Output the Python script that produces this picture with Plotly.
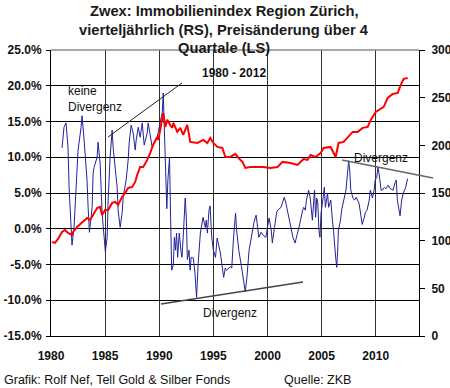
import plotly.graph_objects as go

# Index (right scale), quarterly
red_years = [1980.09, 1980.37, 1980.65, 1981.02, 1981.30, 1981.57, 1981.94, 1982.04, 1982.41, 1982.87,
             1983.33, 1983.61, 1983.89, 1984.26, 1984.54, 1984.72, 1985.00, 1985.28, 1985.65, 1985.93,
             1986.20, 1986.57, 1986.85, 1987.13, 1987.50, 1987.78, 1987.96, 1988.24, 1988.52, 1988.89,
             1989.17, 1989.44, 1989.81, 1989.91, 1990.09, 1990.28, 1990.37, 1990.56, 1990.74, 1991.02,
             1991.20, 1991.30, 1991.67, 1991.94, 1992.22, 1992.59, 1992.69, 1992.87, 1993.52, 1994.07,
             1994.44, 1994.72, 1995.00, 1995.37, 1995.83, 1996.11, 1996.57, 1997.04, 1997.31, 1997.69,
             1997.96, 1998.43, 1999.07, 1999.63, 2000.28, 2000.93, 2001.39, 2002.13, 2002.78, 2003.33,
             2003.70, 2003.98, 2004.44, 2004.91, 2005.19, 2005.83, 2006.30, 2006.57, 2007.04, 2007.41,
             2007.87, 2008.33, 2008.80, 2009.26, 2009.54, 2010.00, 2010.28, 2010.74, 2011.11, 2011.57,
             2012.04, 2012.31, 2012.59, 2012.96]
red_vals = [98.6, 97.6, 101.8, 109.1, 111.2, 108.1, 106.0, 109.1, 114.4, 118.6,
            123.8, 121.7, 127.0, 134.3, 135.4, 127.0, 132.2, 132.2, 139.6, 140.6,
            137.5, 145.9, 150.1, 155.3, 156.3, 161.6, 168.9, 177.3, 177.3, 184.7,
            192.0, 200.4, 208.8, 205.7, 216.2, 231.9, 234.0, 219.3, 226.7, 221.4,
            218.3, 223.5, 214.1, 218.3, 210.9, 221.4, 216.2, 203.6, 202.5, 205.7,
            202.5, 207.8, 202.5, 198.3, 197.3, 187.8, 187.8, 191.0, 186.8, 182.6,
            176.3, 177.3, 177.3, 177.3, 176.3, 177.3, 182.6, 181.5, 179.4, 185.7,
            184.7, 189.9, 187.8, 192.0, 197.3, 198.3, 187.8, 202.5, 203.6, 208.8,
            214.1, 214.1, 218.3, 219.3, 226.7, 235.0, 237.1, 240.3, 249.7, 253.9,
            255.0, 263.4, 269.7, 270.7]

# Price change over 4 quarters in % (left scale)
blue_years = [1981.02, 1981.20, 1981.39, 1981.57, 1981.67, 1981.85, 1981.94, 1982.13, 1982.31, 1982.50,
              1982.78, 1982.87, 1983.06, 1983.33, 1983.43, 1983.55, 1983.80, 1983.89, 1983.98, 1984.26,
              1984.35, 1984.54, 1984.72, 1984.91, 1985.02, 1985.19, 1985.28, 1985.46, 1985.65, 1985.74,
              1985.93, 1986.11, 1986.20, 1986.39, 1986.57, 1986.67, 1986.94, 1987.13, 1987.22, 1987.41,
              1987.59, 1987.78, 1987.87, 1988.06, 1988.24, 1988.43, 1988.61, 1988.89, 1988.98, 1989.17,
              1989.35, 1989.54, 1989.81, 1990.00, 1990.28, 1990.37, 1990.55, 1990.70, 1990.80, 1990.95,
              1991.05, 1991.15, 1991.30, 1991.40, 1991.50, 1991.60, 1991.70, 1991.85, 1992.00, 1992.10,
              1992.25, 1992.40, 1992.50, 1992.60, 1992.75, 1992.85, 1992.95, 1993.15, 1993.30, 1993.45,
              1993.60, 1993.80, 1994.05, 1994.25, 1994.35, 1994.45, 1994.60, 1994.70, 1994.85, 1995.00,
              1995.20, 1995.35, 1995.65, 1995.75, 1995.95, 1996.10, 1996.20, 1996.60, 1996.70, 1996.85,
              1997.05, 1997.15, 1997.35, 1997.60, 1997.80, 1997.95, 1998.10, 1998.30, 1998.50, 1998.75,
              1998.95, 1999.20, 1999.40, 1999.60, 1999.85, 1999.95, 2000.15, 2000.35, 2000.45, 2000.65,
              2000.85, 2000.95, 2001.25, 2001.40, 2001.55, 2001.70, 2001.90, 2002.10, 2002.35, 2002.55,
              2002.75, 2003.00, 2003.25, 2003.35, 2003.50, 2003.60, 2003.80, 2003.95, 2004.15, 2004.25,
              2004.35, 2004.45, 2004.55, 2004.65, 2004.75, 2004.85, 2004.95, 2005.15, 2005.25, 2005.35,
              2005.55, 2005.65, 2005.85, 2006.00, 2006.10, 2006.30, 2006.40, 2006.50, 2006.55, 2006.75,
              2006.85, 2007.05, 2007.25, 2007.40, 2007.50, 2007.60, 2007.70, 2007.90, 2008.05, 2008.20,
              2008.45, 2008.60, 2008.75, 2008.95, 2009.05, 2009.20, 2009.40, 2009.50, 2009.70, 2009.85,
              2009.95, 2010.10, 2010.20, 2010.30, 2010.50, 2010.60, 2010.80, 2010.95, 2011.15, 2011.35,
              2011.60, 2011.80, 2011.90, 2012.00, 2012.15, 2012.25, 2012.40, 2012.55, 2012.75, 2012.95]
blue_vals = [11.3, 14.2, 14.8, 11.4, 5.8, 1.2, -2.3, 0.2, 5.0, 11.0,
             14.2, 15.8, 12.4, 6.8, 3.0, -0.5, 3.0, 7.8, 8.6, 10.0,
             12.1, 9.2, 2.2, -0.6, -3.2, -1.2, 4.0, 10.0, 13.8, 11.4,
             8.2, 5.8, 2.6, 0.2, 2.2, 4.4, 6.8, 9.6, 12.0, 14.5,
             13.4, 11.0, 12.4, 14.2, 12.8, 14.8, 11.7, 13.4, 14.8, 12.8,
             11.4, 12.1, 12.8, 14.2, 16.3, 19.0, 10.0, 2.8, 6.8, 10.0,
             1.6, -5.8, -5.1, -1.2, -3.0, -0.6, -4.0, -0.6, -3.0, -4.0,
             -0.2, 4.3, 1.6, -4.3, -3.0, -5.8, -4.0, -4.1, -6.2, -9.6,
             -4.8, -0.6, 1.6, 0.2, 1.2, -0.6, 2.6, 3.2, -1.2, -3.0,
             -4.0, -1.3, -3.4, -4.8, -6.8, -5.5, -5.8, -5.3, -5.5, -1.6,
             2.2, -0.2, -3.0, -5.3, -7.1, -8.8, -6.8, -3.0, -1.3, 0.9,
             1.9, -1.2, -0.5, -0.9, -1.2, -0.2, 1.5, -0.2, -2.0, 0.2,
             2.3, 2.6, 3.0, 3.7, 4.4, 3.6, 2.2, 0.6, -1.2, -2.0,
             -0.9, 0.8, 2.6, 3.0, 2.6, 4.0, 5.4, 4.3, 1.2, 4.0,
             5.4, 1.6, 4.3, 3.6, -0.2, -1.2, 2.2, 4.4, 5.8, 3.0,
             5.0, 3.0, 4.0, 1.2, -0.2, -4.0, -5.4, -2.6, -0.2, 1.2,
             2.6, 4.0, 5.4, 7.8, 9.5, 8.2, 5.4, 4.3, 4.0, 4.4,
             3.6, 2.2, 0.6, 1.6, 2.3, 2.6, 4.0, 5.4, 4.3, 5.4,
             6.8, 7.2, 8.6, 7.8, 5.4, 5.4, 5.8, 5.6, 6.1, 5.6,
             5.4, 6.5, 6.8, 4.0, 2.3, 1.8, 4.0, 5.0, 5.7, 7.0]

x_ticks = [1980, 1985, 1990, 1995, 2000, 2005, 2010]
left_ticks = [-15, -10, -5, 0, 5, 10, 15, 20, 25]
left_labels = ["-15.0%", "-10.0%", "-5.0%", "0.0%", "5.0%", "10.0%", "15.0%", "20.0%", "25.0%"]
right_ticks = [0, 50, 100, 150, 200, 250, 300]
title_lines = ["Zwex: Immobilienindex Region Zürich,",
               "vierteljährlich (RS), Preisänderung über 4",
               "Quartale (LS)"]

W, H = 450, 388
L, R, T, B = 51, 419, 50, 336
FONT = "Liberation Sans, Arial, sans-serif"


def px(x):
    return (x - L) / (R - L)


def py(y):
    return (B - y) / (B - T)


fig = go.Figure()
fig.add_trace(go.Scatter(x=blue_years, y=blue_vals, mode="lines",
                         line=dict(color="#22229a", width=1), yaxis="y", showlegend=False))
fig.add_trace(go.Scatter(x=red_years, y=red_vals, mode="lines",
                         line=dict(color="#ff0000", width=2), yaxis="y2", showlegend=False))

shapes = [
    dict(type="line", xref="paper", yref="paper", x0=0, x1=1, y0=1, y1=1,
         line=dict(color="#8a8a8a", width=1.5)),
    dict(type="line", xref="paper", yref="paper", x0=px(108), y0=py(137), x1=px(182), y1=py(83),
         line=dict(color="#222222", width=1)),
    dict(type="line", xref="paper", yref="paper", x0=px(161), y0=py(304), x1=px(303), y1=py(282),
         line=dict(color="#444444", width=1.5)),
    dict(type="line", xref="paper", yref="paper", x0=px(342), y0=py(160), x1=px(433), y1=py(178),
         line=dict(color="#666666", width=1.5)),
]

annotations = [
    dict(text="keine<br>Divergenz", x=px(66), y=py(99), xanchor="left", yanchor="middle", align="left",
         font=dict(size=12, color="#111111", family=FONT)),
    dict(text="<b>1980 - 2012</b>", x=px(200), y=py(73), xanchor="left", yanchor="middle",
         font=dict(size=12, color="#111111", family=FONT)),
    dict(text="Divergenz", x=px(201), y=py(313), xanchor="left", yanchor="middle",
         font=dict(size=12, color="#111111", family=FONT)),
    dict(text="Divergenz", x=px(352), y=py(158), xanchor="left", yanchor="middle",
         font=dict(size=12, color="#111111", family=FONT)),
    dict(text="Grafik: Rolf Nef, Tell Gold &amp; Silber Fonds", x=px(2), y=py(380), xanchor="left",
         yanchor="middle", font=dict(size=12.5, color="#111111", family=FONT)),
    dict(text="Quelle: ZKB", x=px(282), y=py(380), xanchor="left", yanchor="middle",
         font=dict(size=12.5, color="#111111", family=FONT)),
]
for yc, line in zip([11, 29.5, 48], title_lines):
    annotations.append(dict(text="<b>%s</b>" % line, x=px(224), y=py(yc), xanchor="center", yanchor="middle",
                            font=dict(size=14.7, color="#1a1a1a", family=FONT)))
for a in annotations:
    a.update(xref="paper", yref="paper", showarrow=False)

fig.update_layout(
    width=W, height=H, autosize=False,
    margin=dict(l=L, r=W - R, t=T, b=H - B, pad=0, autoexpand=False),
    paper_bgcolor="white", plot_bgcolor="white",
    xaxis=dict(range=[1980, 2014], tickvals=x_ticks, ticktext=["<b>%d</b>" % v for v in x_ticks],
               showgrid=True, gridcolor="#333333", gridwidth=1, automargin=False,
               showline=True, linecolor="black", linewidth=1, ticks="", zeroline=False,
               ticklabelstandoff=9,
               tickfont=dict(size=12, color="#111111", family=FONT)),
    yaxis=dict(range=[-15, 25], tickvals=left_ticks, ticktext=["<b>%s</b>" % t for t in left_labels],
               showgrid=True, gridcolor="black", gridwidth=1, zeroline=False, automargin=False,
               showline=True, linecolor="black", linewidth=1, ticks="outside", ticklen=4, tickcolor="black",
               ticklabelstandoff=2,
               tickfont=dict(size=12, color="#111111", family=FONT)),
    yaxis2=dict(range=[0, 300], tickvals=right_ticks, ticktext=["<b>%d</b>" % v for v in right_ticks],
                overlaying="y", side="right", showgrid=False, zeroline=False, automargin=False,
                showline=True, linecolor="black", linewidth=1, ticks="outside", ticklen=5, tickcolor="black",
                ticklabelstandoff=4,
                tickfont=dict(size=12, color="#111111", family=FONT)),
    shapes=shapes, annotations=annotations,
    font=dict(family=FONT),
)

fig.write_html("out.html", config={"displayModeBar": False},
               post_script="document.body.style.margin='0';document.body.style.overflow='hidden';")
